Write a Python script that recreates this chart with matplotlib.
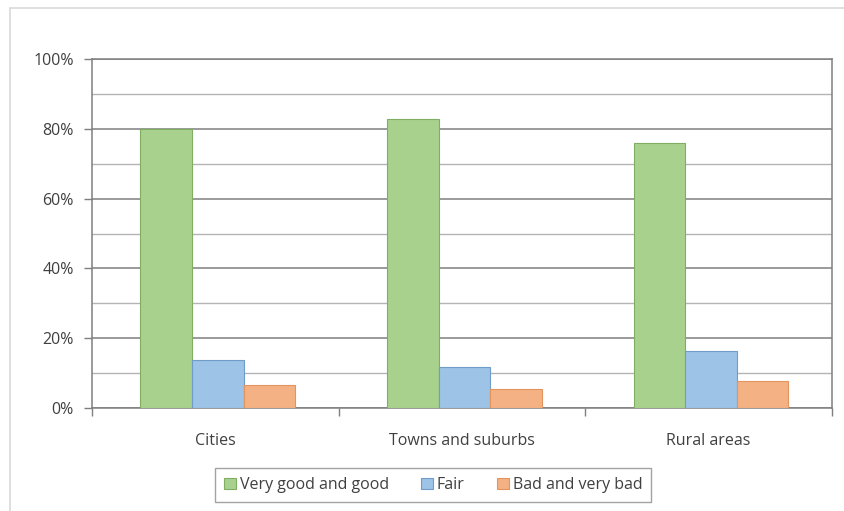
import numpy as np
import matplotlib.pyplot as plt
from matplotlib.patches import Rectangle

# Data
categories = ["Cities", "Towns and suburbs", "Rural areas"]
series_names = ["Very good and good", "Fair", "Bad and very bad"]
very_good = [80.0, 82.8, 75.8]
fair = [13.8, 11.8, 16.3]
bad = [6.6, 5.4, 7.8]

colors = ["#a9d18e", "#9dc3e6", "#f4b183"]
edges = ["#7fae62", "#6f9cc8", "#e2935e"]

plt.rcParams['font.family'] = ['Open Sans', 'DejaVu Sans']

fig = plt.figure(figsize=(8.45, 5.11), dpi=100)
ax = fig.add_axes([92 / 845, 1 - 408 / 511, 740 / 845, 349 / 511])

x = np.arange(len(categories))
width = 0.209
for i, (vals, name) in enumerate(zip([very_good, fair, bad], series_names)):
    ax.bar(x + (i - 1) * width + 0.01, vals, width, color=colors[i],
           edgecolor=edges[i], linewidth=0.8, label=name, zorder=3)

ax.set_xlim(-0.5, 2.5)
ax.set_ylim(0, 100)
ax.set_yticks(np.arange(0, 101, 20))
ax.set_yticklabels([f"{v}%" for v in range(0, 101, 20)])
ax.set_yticks(np.arange(10, 100, 20), minor=True)
ax.grid(axis='y', which='major', color='#7f7f7f', linewidth=1.1, zorder=0)
ax.grid(axis='y', which='minor', color='#b4b4b4', linewidth=1.0, zorder=0)

# category labels centred, ticks on category boundaries
ax.set_xticks([-0.5, 0.5, 1.5, 2.5])
ax.set_xticklabels([])
ax.set_xticks(x, minor=True)
ax.set_xticklabels(categories, minor=True)
ax.tick_params(axis='x', which='minor', length=0, pad=18, labelsize=11.5, labelcolor='#404040')
ax.tick_params(axis='x', which='major', length=6, color='#7f7f7f', width=1.0)
ax.tick_params(axis='y', which='major', length=6, color='#7f7f7f', width=1.0,
               labelsize=11.5, labelcolor='#404040', pad=7)
ax.tick_params(axis='y', which='minor', length=0)

for s in ['left', 'right', 'top', 'bottom']:
    ax.spines[s].set_color('#7f7f7f')
    ax.spines[s].set_linewidth(1.1)

leg = fig.legend(loc='center', bbox_to_anchor=(433 / 845, 1 - 485 / 511), ncol=3,
                 frameon=True, fancybox=False, edgecolor='#8c8c8c',
                 fontsize=11.5, handlelength=0.75, handleheight=0.75,
                 handletextpad=0.25, columnspacing=2.0, borderpad=0.55,
                 borderaxespad=0, labelcolor='#404040')
leg.get_frame().set_linewidth(1.0)

# light outer chart-area border (only top/left visible in the reference)
fig.patches.append(Rectangle((10 / 845, -0.1), 1.2, 1 - 8 / 511 + 0.1,
                             transform=fig.transFigure, fill=False,
                             edgecolor='#d9d9d9', linewidth=1.2))

fig.savefig("out.png", dpi=100)
